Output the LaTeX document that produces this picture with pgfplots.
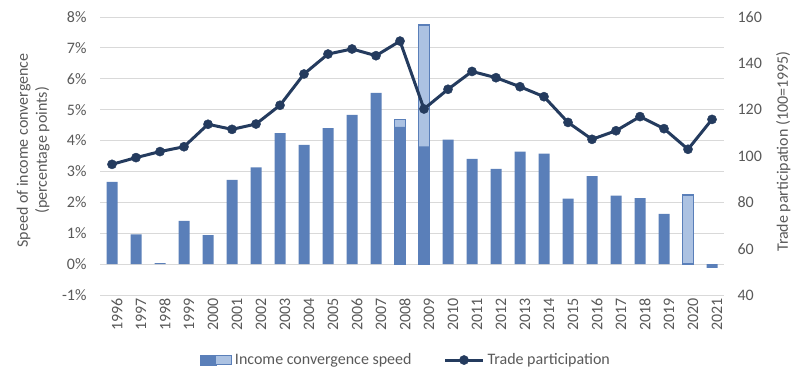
\documentclass[border=0pt]{standalone}
\usepackage{pgfplots}
\pgfplotsset{compat=1.18}
\usepackage{fontspec}
\setmainfont{Carlito}
\definecolor{barblue}{HTML}{5A7FB9}
\definecolor{lightblue}{HTML}{ACC2E2}
\definecolor{navy}{HTML}{243B5E}
\definecolor{gridgray}{HTML}{D9D9D9}
\definecolor{txtgray}{HTML}{595959}
\pgfplotsset{
  mylineleg/.style={legend image code/.code={\draw[mark repeat=2, mark phase=2, ##1] plot coordinates {(0bp,0bp) (19bp,0bp) (38bp,0bp)};}},
  mybarleg/.style={legend image code/.code={
    \fill[barblue] (0bp,-5bp) rectangle (16bp,5bp);
    \draw[fill=lightblue, draw=barblue, line width=1.3bp] (16bp,-4.4bp) rectangle (31.5bp,4.4bp);}},
  common/.style={
    at={(100bp,86bp)}, anchor=south west,
    scale only axis, width=624bp, height=278bp,
    xmin=-0.5, xmax=25.5,
    axis line style={draw=none},
    major tick length=0pt,
    tick style={draw=none},
    /pgf/number format/assume math mode=true,
    every tick label/.append style={font=\fontsize{16bp}{19bp}\selectfont, text=txtgray},
    every axis label/.append style={font=\fontsize{16bp}{19bp}\selectfont, text=txtgray},
  }
}
\begin{document}
\begin{tikzpicture}
\path[use as bounding box] (0bp,0bp) rectangle (800bp,381bp);
\begin{axis}[common,
  ymin=-1, ymax=8, ytick={-1,0,...,8},
  yticklabel={\pgfmathprintnumber{\tick}\%},
  yticklabel style={anchor=east, xshift=-10bp},
  ymajorgrids, grid style={gridgray, line width=0.9bp},
  xtick={0,...,25},
  xticklabels={1996,1997,1998,1999,2000,2001,2002,2003,2004,2005,2006,2007,2008,2009,2010,2011,2012,2013,2014,2015,2016,2017,2018,2019,2020,2021},
  xticklabel style={rotate=90, anchor=east, yshift=-5bp},
  ylabel={Speed of income convergence\\(percentage points)},
  ylabel style={at={(axis description cs:-0.107,0.52)}, anchor=center, align=center},
]
\addplot[ybar, bar width=11bp, bar shift=0pt, fill=lightblue, draw=barblue, line width=1.3bp]
  coordinates {(12,4.68) (13,7.74) (24,2.24)};
\addplot[ybar, bar width=11bp, bar shift=0pt, fill=barblue, draw=none]
  coordinates {
  (0,2.66) (1,0.96) (2,0.03) (3,1.40) (4,0.94) (5,2.73) (6,3.13) (7,4.24)
  (8,3.86) (9,4.40) (10,4.83) (11,5.54) (12,4.44) (13,3.81) (14,4.03) (15,3.41)
  (16,3.08) (17,3.64) (18,3.58) (19,2.12) (20,2.85) (21,2.22) (22,2.14) (23,1.63)
  (25,-0.12)};
\end{axis}
\begin{axis}[common,
  axis y line*=right, axis x line=none,
  ymin=40, ymax=160, ytick={40,60,...,160},
  yticklabel style={anchor=west, xshift=10bp},
  ylabel={Trade participation (100=1995)},
  ylabel style={at={(axis description cs:1.095,0.516)}, anchor=center},
  legend columns=2,
  legend style={at={(axis description cs:0.49,-0.234)}, anchor=center, draw=none,
    fill=none, font=\fontsize{16bp}{19bp}\selectfont, text=txtgray,
    /tikz/every even column/.append style={column sep=30bp},
    /tikz/every odd column/.append style={column sep=1bp}},
]
\addlegendimage{mybarleg}
\addlegendentry{Income convergence speed}
\addplot[navy, line width=3bp, mark=*, mark size=4.6bp, mark options={fill=navy, line width=0.4bp}, mylineleg]
  coordinates {
  (0,96.4) (1,99.3) (2,101.9) (3,104.0) (4,113.7) (5,111.5) (6,113.8) (7,121.9)
  (8,135.4) (9,144.0) (10,146.2) (11,143.3) (12,149.6) (13,120.3) (14,128.8) (15,136.5)
  (16,133.8) (17,129.9) (18,125.6) (19,114.5) (20,107.2) (21,110.9) (22,117.0) (23,111.8)
  (24,102.9) (25,115.8)};
\addlegendentry{Trade participation}
\end{axis}
\end{tikzpicture}
\end{document}
